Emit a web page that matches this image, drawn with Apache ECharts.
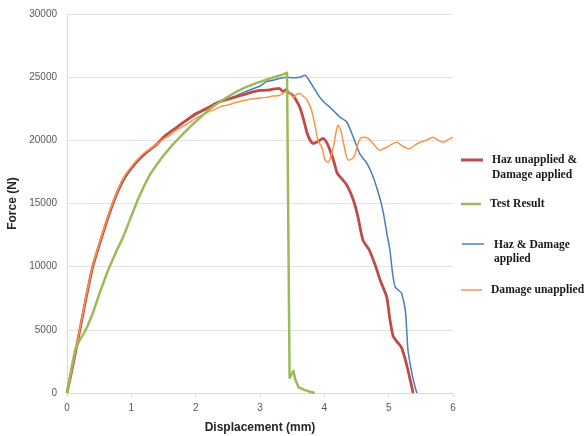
<!DOCTYPE html>
<html>
<head>
<meta charset="utf-8">
<script src="https://cdn.jsdelivr.net/npm/echarts@6/dist/echarts.min.js"></script>
<style>html,body{margin:0;padding:0;background:#fff}#c{width:585px;height:436px}</style>
</head>
<body>
<div id="c"></div>
<script>
const xTicks = [0,1,2,3,4,5,6];
const yTicks = [0,5000,10000,15000,20000,25000,30000];
const seriesNames = ["Haz unapplied & Damage applied","Test Result","Haz & Damage applied","Damage unapplied"];

const hazUnappliedDamageApplied = [
 [0,0],[0.1,2400],[0.2,5000],[0.3,7600],[0.4,10000],[0.5,11700],[0.6,13300],[0.7,14800],[0.8,16100],[0.9,17100],[1.0,17800],
 [1.1,18400],[1.2,18900],[1.3,19300],[1.4,19700],[1.5,20250],[1.6,20650],[1.7,21000],[1.8,21400],[1.9,21750],[2.0,22100],
 [2.1,22350],[2.2,22600],[2.3,22900],[2.4,23100],[2.5,23250],[2.6,23400],[2.7,23550],[2.8,23700],[2.9,23850],[3.0,23950],
 [3.1,23970],[3.2,24050],[3.3,24120],[3.36,23850],[3.4,24000],[3.44,23800],[3.5,23600],[3.56,23200],[3.62,22600],[3.68,21600],
 [3.73,20600],[3.78,20000],[3.83,19750],[3.9,19900],[3.98,20150],[4.04,19800],[4.09,19200],[4.15,18300],[4.2,17400],[4.28,16900],
 [4.35,16450],[4.45,15300],[4.52,14000],[4.6,12100],[4.7,11300],[4.8,10000],[4.87,8900],[4.97,7600],[5.02,5800],[5.07,4500],
 [5.13,4050],[5.2,3600],[5.25,2800],[5.3,1800],[5.35,700],[5.38,0]
];
const testResult = [
 [0,0],[0.07,2000],[0.13,3500],[0.2,4200],[0.27,4800],[0.32,5300],[0.4,6300],[0.5,7800],[0.6,9200],[0.67,10100],[0.77,11250],
 [0.87,12300],[1.0,14000],[1.1,15300],[1.2,16400],[1.29,17300],[1.4,18100],[1.5,18800],[1.65,19700],[1.8,20500],[1.95,21250],
 [2.07,21800],[2.2,22400],[2.35,22950],[2.5,23450],[2.65,23900],[2.8,24250],[2.95,24550],[3.1,24800],[3.25,25050],[3.35,25200],
 [3.42,25350],[3.44,25250],[3.46,1200],[3.49,1250],[3.52,1750],[3.55,1050],[3.6,450],[3.7,230],[3.78,100],[3.85,0]
];
const hazAndDamageApplied = [
 [0,0],[0.1,2400],[0.2,5000],[0.3,7600],[0.4,10000],[0.5,11700],[0.6,13300],[0.7,14800],[0.8,16000],[0.9,17000],[1.0,17750],
 [1.1,18350],[1.2,18850],[1.3,19300],[1.4,19700],[1.5,20200],[1.6,20600],[1.7,21000],[1.8,21350],[1.9,21700],[2.0,22000],
 [2.1,22300],[2.2,22550],[2.3,22850],[2.4,23150],[2.5,23300],[2.6,23450],[2.7,23700],[2.8,23900],[2.9,24100],[3.0,24300],
 [3.1,24650],[3.2,24750],[3.3,24900],[3.42,25000],[3.5,24950],[3.62,25000],[3.7,25150],[3.77,24700],[3.83,24200],[3.93,23400],
 [4.0,23000],[4.09,22600],[4.17,22200],[4.24,21850],[4.35,21450],[4.45,20250],[4.55,18950],[4.66,18200],[4.76,17100],[4.87,15300],
 [4.92,14200],[4.97,12700],[5.02,11300],[5.06,9500],[5.1,8400],[5.16,8100],[5.2,7900],[5.26,6500],[5.3,3400],[5.36,1600],[5.42,300],[5.44,0]
];
const damageUnapplied = [
 [0,0],[0.1,2500],[0.2,5100],[0.3,7700],[0.4,10100],[0.5,11800],[0.6,13400],[0.7,14900],[0.8,16200],[0.9,17200],[1.0,17900],
 [1.1,18500],[1.2,19000],[1.3,19350],[1.4,19700],[1.5,20100],[1.6,20400],[1.7,20800],[1.8,21100],[1.9,21400],[2.0,21750],
 [2.1,22000],[2.2,22250],[2.3,22450],[2.4,22700],[2.5,22800],[2.6,22950],[2.7,23100],[2.8,23200],[2.9,23300],[3.0,23350],
 [3.1,23400],[3.2,23500],[3.3,23550],[3.42,23900],[3.47,23700],[3.52,23400],[3.57,23650],[3.62,23700],[3.68,23450],[3.73,23200],
 [3.8,22400],[3.86,21050],[3.9,20000],[3.96,19450],[4.01,18450],[4.06,18250],[4.1,18700],[4.14,19450],[4.18,20600],[4.21,21200],
 [4.25,20900],[4.29,20000],[4.33,19000],[4.37,18450],[4.42,18500],[4.47,18800],[4.52,19700],[4.57,20200],[4.62,20250],[4.68,20150],
 [4.76,19750],[4.82,19350],[4.87,19200],[4.92,19350],[4.97,19450],[5.05,19700],[5.13,19850],[5.2,19600],[5.27,19400],[5.33,19350],
 [5.4,19600],[5.49,19850],[5.58,20000],[5.69,20250],[5.77,20000],[5.85,19850],[5.92,20050],[6.0,20250]
];

const chart = echarts.init(document.getElementById('c'), null, {renderer:'canvas'});
const tickFont = {color:'#595959', fontSize:10, fontFamily:'Liberation Sans'};
const legendFont = 'bold 11.6px "Liberation Serif"';
function legLine(x1,x2,y,color,w){return {type:'line',shape:{x1:x1,y1:y,x2:x2,y2:y},style:{stroke:color,lineWidth:w}};}
function legText(x,y,t){return {type:'text',x:x,y:y,style:{text:t,font:legendFont,fill:'#1a1a1a',verticalAlign:'middle'}};}
chart.setOption({
  animation:false,
  backgroundColor:'#fff',
  grid:{left:67,right:132,top:14,bottom:43,containLabel:false,outerBoundsMode:'none'},
  xAxis:{type:'value',min:0,max:6,interval:1,
    name:'Displacement (mm)',nameLocation:'middle',nameGap:29,
    nameTextStyle:{fontSize:12,fontWeight:'bold',color:'#262626',fontFamily:'Liberation Sans'},
    axisLine:{show:true,lineStyle:{color:'#d9d9d9',width:1}},
    axisTick:{show:true,length:4,lineStyle:{color:'#d9d9d9'}},
    axisLabel:Object.assign({margin:10,formatter:v=>String(v)},tickFont),
    splitLine:{show:false}},
  yAxis:{type:'value',min:0,max:30000,interval:5000,
    name:'Force (N)',nameLocation:'middle',nameGap:47,nameRotate:90,
    nameTextStyle:{fontSize:12,fontWeight:'bold',color:'#262626',fontFamily:'Liberation Sans'},
    axisLine:{show:true,lineStyle:{color:'#d9d9d9',width:1}},
    axisTick:{show:false},
    axisLabel:Object.assign({margin:10,formatter:v=>String(v)},tickFont),
    splitLine:{show:true,lineStyle:{color:'#e3e3e3',width:1}}},
  series:[
    {name:seriesNames[2],type:'line',data:hazAndDamageApplied,showSymbol:false,smooth:0.2,lineStyle:{color:'#4A7EBB',width:1.5},itemStyle:{color:'#4A7EBB'}},
    {name:seriesNames[0],type:'line',data:hazUnappliedDamageApplied,showSymbol:false,smooth:0.2,lineStyle:{color:'#BE4B48',width:2.8},itemStyle:{color:'#BE4B48'}},
    {name:seriesNames[3],type:'line',data:damageUnapplied,showSymbol:false,smooth:0.2,lineStyle:{color:'#F79646',width:1.5},itemStyle:{color:'#F79646'}},
    {name:seriesNames[1],type:'line',data:testResult,showSymbol:false,smooth:false,lineStyle:{color:'#9BBB59',width:2.5,join:'round'},itemStyle:{color:'#9BBB59'}}
  ],
  graphic:[
    legLine(461,483,160,'#BE4B48',3), legText(492,160,'Haz unapplied &'), legText(492,175,'Damage applied'),
    legLine(461,481,204,'#9BBB59',2.5), legText(490,204,'Test Result'),
    legLine(462,484,244,'#4A7EBB',1.5), legText(494,245,'Haz & Damage'), legText(494,259,'applied'),
    legLine(461,482,290,'#F79646',1.5), legText(491,290,'Damage unapplied')
  ]
});
</script>
</body>
</html>
